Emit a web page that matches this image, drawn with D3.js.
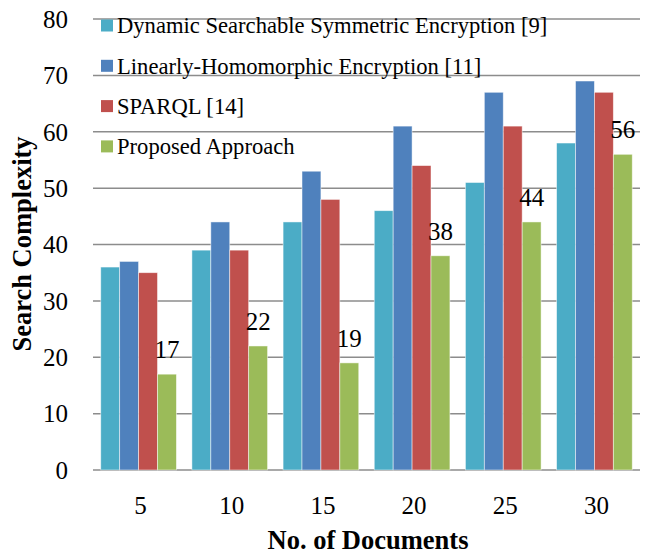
<!DOCTYPE html>
<html>
<head>
<meta charset="utf-8">
<script src="https://cdn.jsdelivr.net/npm/d3@7"></script>
<style>
  body { margin: 0; background: #fff; }
  svg text { font-family: "Times New Roman", "Liberation Serif", "DejaVu Serif", serif; }
</style>
</head>
<body>
<div id="chart"></div>
<script>
const categories = ["5", "10", "15", "20", "25", "30"];
const seriesNames = [
  "Dynamic Searchable Symmetric Encryption [9]",
  "Linearly-Homomorphic Encryption [11]",
  "SPARQL [14]",
  "Proposed Approach"
];
const dsse = [36, 39, 44, 46, 51, 58];
const lhe = [37, 44, 53, 61, 67, 69];
const sparql = [35, 39, 48, 54, 61, 67];
const proposed = [17, 22, 19, 38, 44, 56];
const yTicks = [0, 10, 20, 30, 40, 50, 60, 70, 80];
const colors = ["#4BACC6", "#4F81BD", "#C0504D", "#9BBB59"];

const allSeries = [dsse, lhe, sparql, proposed];
const width = 647, height = 554;

const svg = d3.select("#chart")
  .append("svg")
  .attr("width", width)
  .attr("height", height);

const x = d3.scaleBand()
  .domain(categories)
  .range([93, 640])
  .paddingInner(0.17)
  .paddingOuter(0.085);

const x1 = d3.scaleBand()
  .domain(d3.range(4))
  .range([0, x.bandwidth()]);

const y = d3.scaleLinear()
  .domain([0, 80])
  .range([470, 19]);

// gridlines
svg.append("g")
  .selectAll("line")
  .data(yTicks)
  .join("line")
  .attr("x1", 93)
  .attr("x2", 640)
  .attr("y1", d => y(d))
  .attr("y2", d => y(d))
  .attr("stroke", "#8c8c8c")
  .attr("stroke-width", 1.5);

// y tick labels
svg.append("g")
  .selectAll("text")
  .data(yTicks)
  .join("text")
  .attr("x", 68)
  .attr("y", d => y(d))
  .attr("dy", "0.35em")
  .attr("text-anchor", "end")
  .attr("font-size", 25)
  .text(d => d);

// bars
categories.forEach((c, i) => {
  svg.append("g")
    .selectAll("rect")
    .data(allSeries.map((s, k) => ({ k, v: s[i] })))
    .join("rect")
    .attr("x", d => x(c) + x1(d.k))
    .attr("y", d => y(d.v))
    .attr("width", x1.bandwidth())
    .attr("height", d => y(0) - y(d.v))
    .attr("fill", d => colors[d.k])
    .attr("stroke", "#ffffff")
    .attr("stroke-opacity", 0.6)
    .attr("stroke-width", 0.8);
});

// data labels on proposed approach
svg.append("g")
  .selectAll("text")
  .data(proposed)
  .join("text")
  .attr("x", (d, i) => x(categories[i]) + x1(3) + x1.bandwidth() / 2)
  .attr("y", d => y(d) - 16)
  .attr("text-anchor", "middle")
  .attr("font-size", 25)
  .text(d => d);

// x tick labels
svg.append("g")
  .selectAll("text")
  .data(categories)
  .join("text")
  .attr("x", d => x(d) + x.bandwidth() / 2 + 2)
  .attr("y", 514)
  .attr("text-anchor", "middle")
  .attr("font-size", 25)
  .text(d => d);

// legend
const legend = svg.append("g")
  .selectAll("g")
  .data(seriesNames)
  .join("g")
  .attr("transform", (d, i) => `translate(101,${25.5 + i * 40.3})`);

legend.append("rect")
  .attr("x", 0)
  .attr("y", -6)
  .attr("width", 12)
  .attr("height", 12)
  .attr("fill", (d, i) => colors[i]);

legend.append("text")
  .attr("x", 16)
  .attr("y", 0)
  .attr("dy", "0.35em")
  .attr("font-size", 22.6)
  .text(d => d);

// X label
svg.append("text")
  .attr("x", 368)
  .attr("y", 549)
  .attr("text-anchor", "middle")
  .attr("font-size", 26.5)
  .attr("font-weight", "bold")
  .text("No. of Documents");

// Y label
svg.append("text")
  .attr("transform", "rotate(-90)")
  .attr("x", -244)
  .attr("y", 31)
  .attr("text-anchor", "middle")
  .attr("font-size", 26.5)
  .attr("font-weight", "bold")
  .text("Search Complexity");
</script>
</body>
</html>
